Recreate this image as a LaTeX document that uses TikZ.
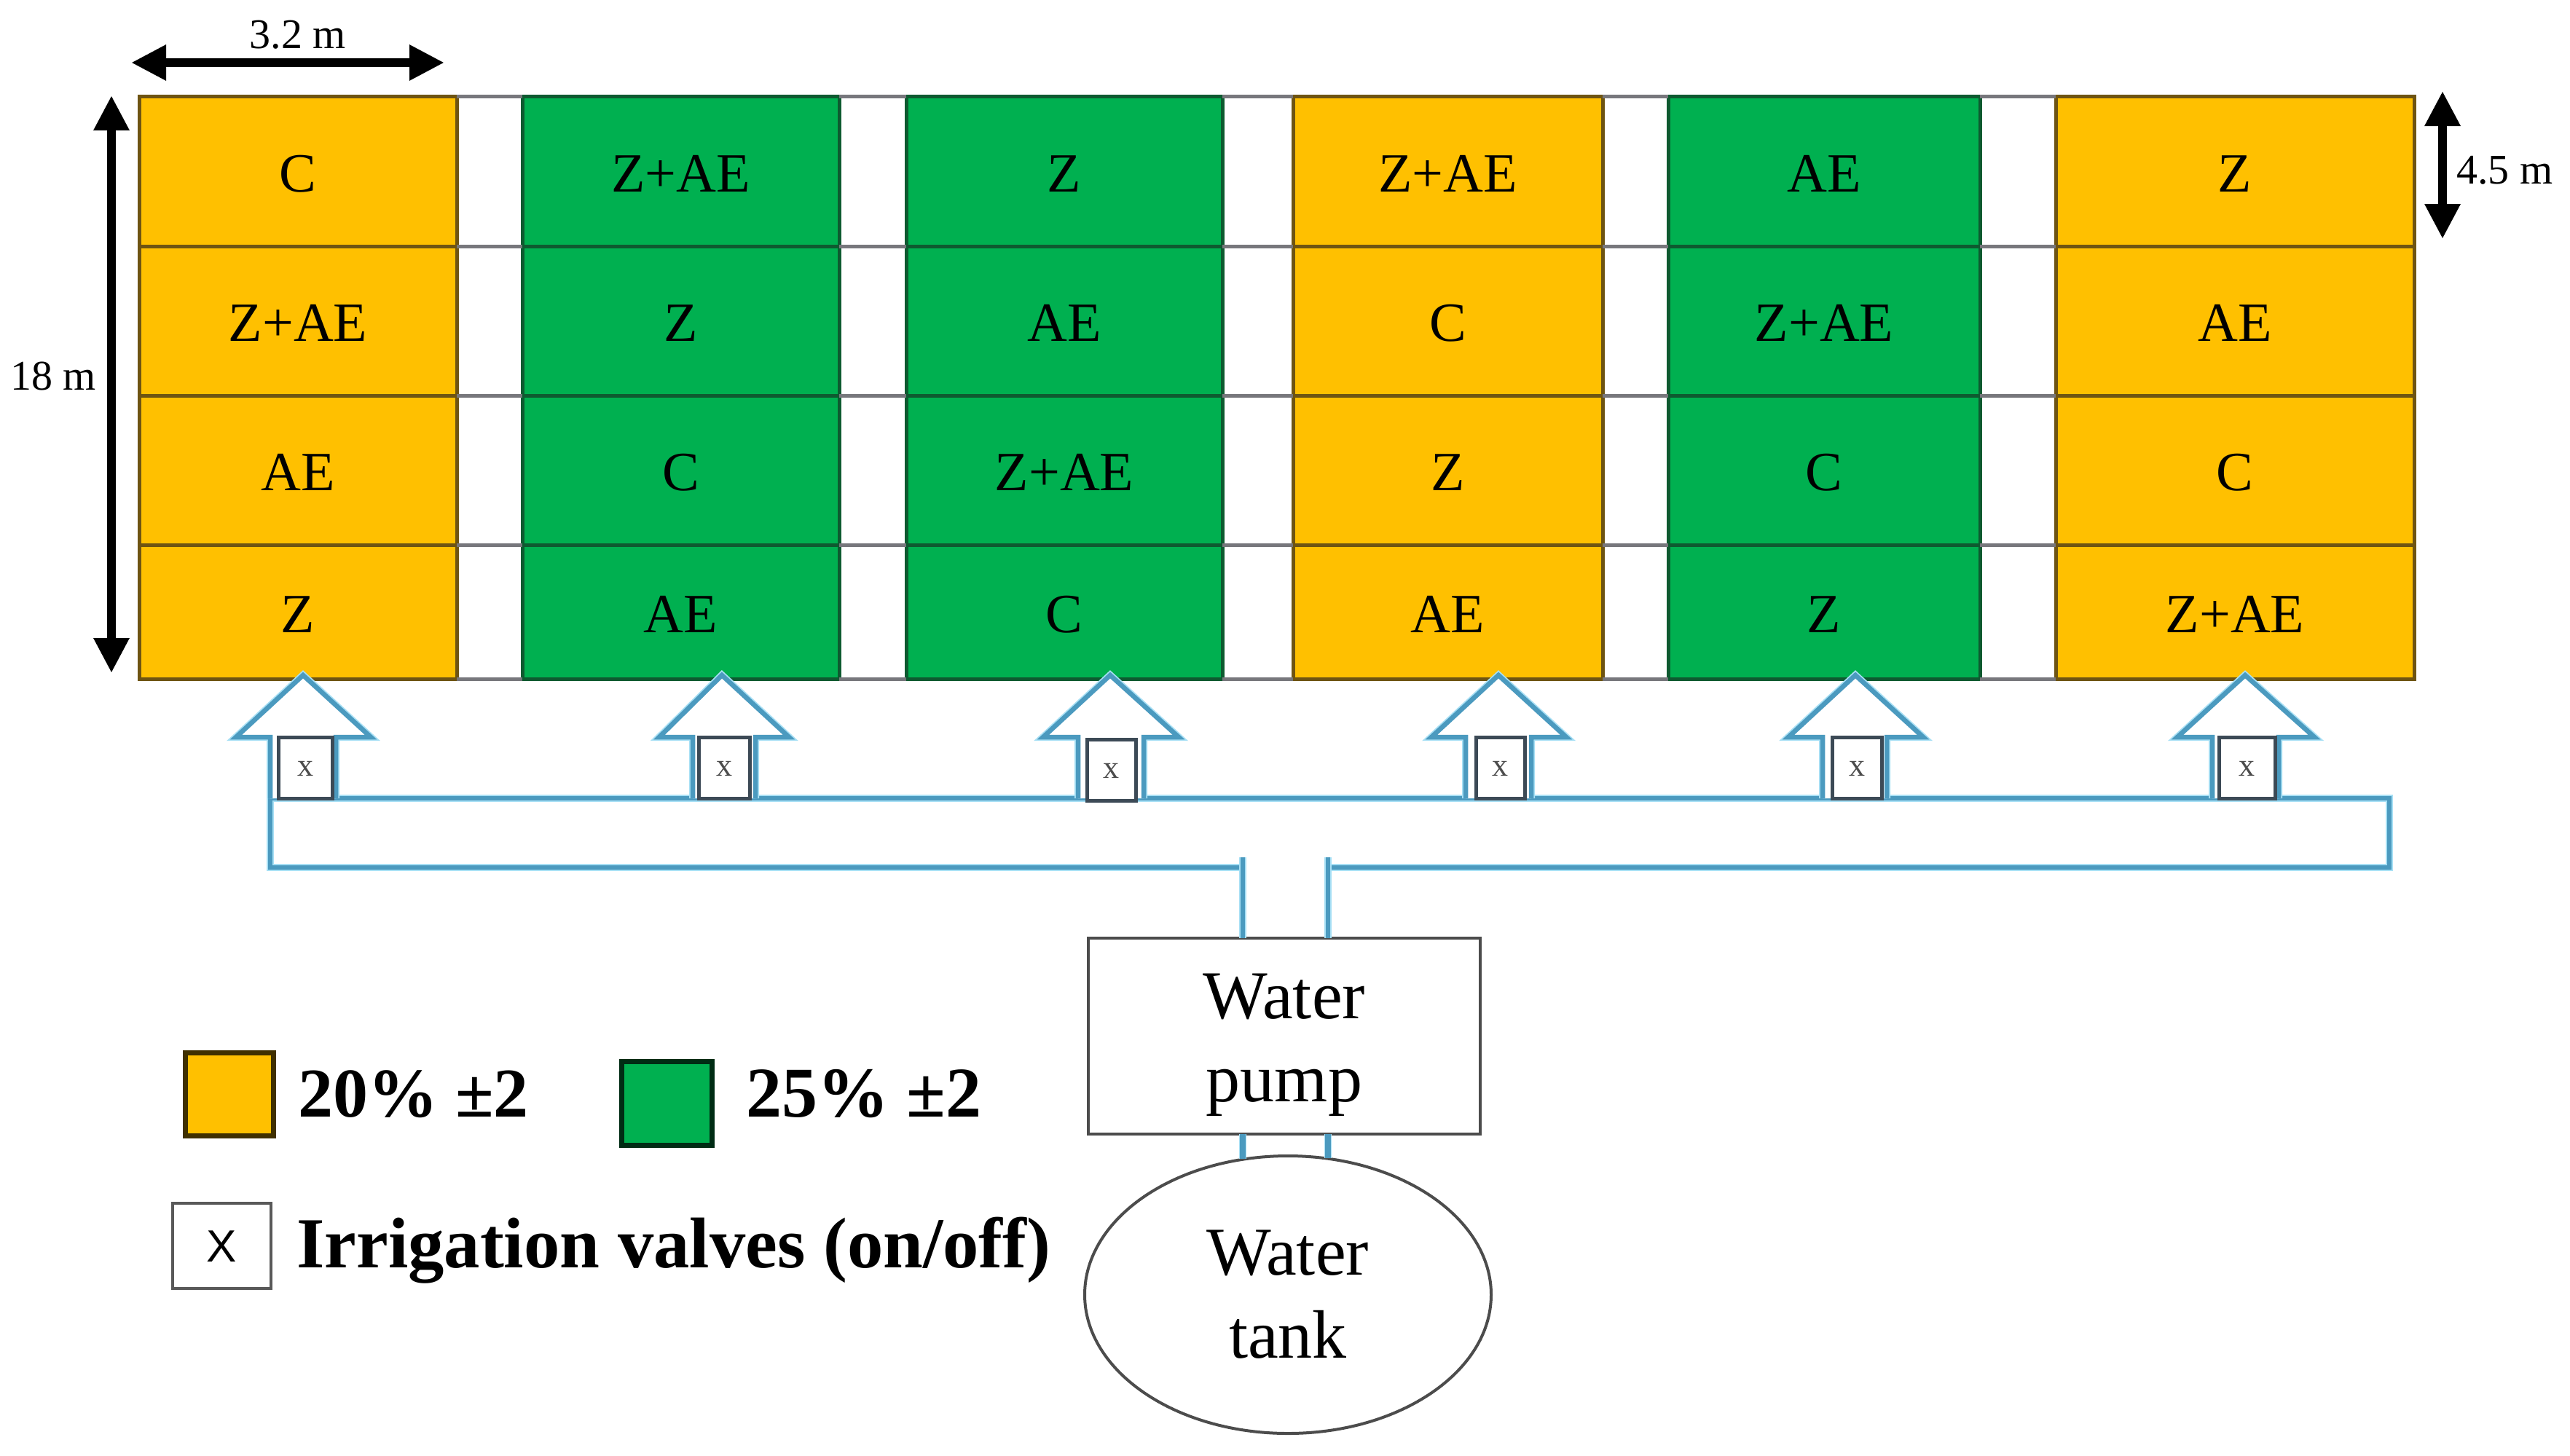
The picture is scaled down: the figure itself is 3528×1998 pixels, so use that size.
\documentclass[tikz,border=0pt]{standalone}
\usepackage{fontspec}
\setmainfont{Liberation Serif}
\newfontfamily\lsans{Liberation Sans}
\usetikzlibrary{arrows.meta,shapes.geometric}
\definecolor{yfill}{HTML}{FFC000}
\definecolor{gfill}{HTML}{00B050}
\definecolor{yedge}{HTML}{6E5412}
\definecolor{gedge}{HTML}{0E5A30}
\definecolor{gapline}{HTML}{77777C}
\definecolor{pipe}{HTML}{4B9ABF}
\definecolor{pipehalo}{HTML}{A8E0F5}
\definecolor{valveedge}{HTML}{3C4A56}
\newcommand\fsz[2]{\fontsize{#1}{#2}\selectfont}
\tikzset{
  x=1pt,y=-1pt,
  cell/.style={rectangle,line width=5pt,inner sep=0pt,outer sep=0pt,font=\fsz{76}{80},text height=56pt,text depth=0pt},
  gridgap/.style={gapline,line width=5pt},
  pipeline/.style={pipe,line width=6.5pt,line join=miter,preaction={draw=pipehalo,line width=10pt}},
  valve/.style={rectangle,draw=valveedge,fill=white,line width=5pt,inner sep=0pt,outer sep=0pt,minimum height=84pt,font=\fsz{44}{46},text height=22pt,text depth=0pt,text=black!70},
  dimarrow/.style={line width=12pt,{Triangle[length=48pt,width=46pt]}-{Triangle[length=48pt,width=46pt]}},
  dimtext/.style={inner sep=0pt,font=\fsz{58}{60}},
  legtext/.style={inner sep=0pt,anchor=base west,font=\bfseries\fsz{96}{100}},
  equip/.style={draw=black!70,line width=4pt,fill=white,inner sep=0pt,outer sep=0pt,font=\fsz{94}{114},text height=0pt},
}
\begin{document}
\begin{tikzpicture}
\useasboundingbox[fill=white] (0,0) rectangle (3528,1998);

% plots
\foreach \cn/\cx/\cw/\cf/\cd/\la/\lb/\lc/\ld in {
  1/409/436/yfill/yedge/C/Z+AE/AE/Z,
  2/934.5/435/gfill/gedge/Z+AE/Z/C/AE,
  3/1461/434/gfill/gedge/Z/AE/Z+AE/C,
  4/1987.5/425/yfill/yedge/Z+AE/C/Z/AE,
  5/2504/428/gfill/gedge/AE/Z+AE/C/Z,
  6/3068/492/yfill/yedge/Z/AE/C/Z+AE}{
  \foreach \rn/\ry/\rh/\lab in {1/235/206/\la,2/440.5/205/\lb,3/645.5/205/\lc,4/840/184/\ld}{
    \node[cell,draw=\cd,fill=\cf,minimum width=\cw pt,minimum height=\rh pt] (c\cn\rn) at (\cx,\ry) {\lab};
  }
}
% grid lines across the gaps
\foreach \ca/\cb in {1/2,2/3,3/4,4/5,5/6}{
  \foreach \rn in {1,2,3,4}{
    \draw[gridgap] (c\ca\rn.north east) -- (c\cb\rn.north west);
  }
  \draw[gridgap] (c\ca4.south east) -- (c\cb4.south west);
}

% dimension arrows
\coordinate (wa) at (180,86);
\coordinate (wb) at (610,86);
\draw[dimarrow] (wa) -- (wb);
\node[dimtext,anchor=base] (wlab) at (409,66) {3.2 m};
\coordinate (ha) at (153,131);
\coordinate (hb) at (153,924);
\draw[dimarrow] (ha) -- (hb);
\node[dimtext,anchor=base west] (hlab) at (14,535) {18 m};
\coordinate (ra) at (3353,125);
\coordinate (rb) at (3353,328);
\draw[dimarrow] (ra) -- (rb);
\node[dimtext,anchor=base west] (rlab) at (3372,252) {4.5 m};

% pump and tank
\node[equip,rectangle,minimum width=538pt,minimum height=269pt,text depth=49pt] (pump) at (1763,1422.5) {\begin{tabular}[t]{@{}c@{}}Water\\pump\end{tabular}};
\node[equip,ellipse,minimum width=558pt,minimum height=381pt,text depth=54pt] (tank) at (1768,1777.5) {\begin{tabular}[t]{@{}c@{}}Water\\tank\end{tabular}};

% main pipe
\coordinate (gl) at (1706,1177);
\coordinate (gr) at (1823,1177);
\coordinate (tl) at (1706,1591);
\coordinate (tr) at (1823,1590);
\draw[pipeline] (1706,1191) -- (371,1191) -- (371,1096) -- (3280,1096) -- (3280,1191) -- (1823,1191);
\draw[pipeline] (gl) -- (gl |- pump.north);
\draw[pipeline] (gr) -- (gr |- pump.north);
\draw[pipeline,line width=8pt] (gl |- pump.south) -- (tl);
\draw[pipeline,line width=8pt] (gr |- pump.south) -- (tr);

% supply arrows with valves
\foreach \an/\tip/\hl/\hr/\sl/\sr/\vx/\vw/\vy in {
  1/416/324/509/371/461/419/74/1054,
  2/991/905/1083/951/1037/994/70/1054,
  3/1524/1432/1618/1480/1570/1525.5/67/1057,
  4/2057/1965/2150/2012/2102/2059.5/67/1054,
  5/2547/2455/2640/2502/2590/2549/68/1054,
  6/3082/2989/3177/3037/3128/3084.5/77/1054}{
  \draw[pipeline,fill=white] (\sl,1096) -- (\sl,1012) -- (\hl,1012) -- (\tip,927) -- (\hr,1012) -- (\sr,1012) -- (\sr,1096);
  \node[valve,minimum width=\vw pt] (v\an) at (\vx,\vy) {x};
}

% legend
\node[rectangle,draw=yfill!25!black,fill=yfill,line width=7pt,minimum width=121pt,minimum height=114pt,inner sep=0pt,outer sep=0pt] (ky) at (314.5,1502) {};
\node[legtext] (kyt) at (409,1533) {20\% ±2};
\node[rectangle,draw=gfill!25!black,fill=gfill,line width=7pt,minimum width=124pt,minimum height=115pt,inner sep=0pt,outer sep=0pt] (kg) at (915,1514.5) {};
\node[legtext,font=\bfseries\fsz{98}{100}] (kgt) at (1024,1533) {25\% ±2};
\node[rectangle,draw=black!65,line width=4.5pt,minimum width=135pt,minimum height=117pt,inner sep=0pt,outer sep=0pt,font=\lsans\fsz{62}{64},text height=44pt,text depth=0pt] (kv) at (304.5,1710.5) {X};
\node[legtext,font=\bfseries\fsz{98.6}{100}] (kvt) at (407,1740) {Irrigation valves (on/off)};
\end{tikzpicture}
\end{document}
